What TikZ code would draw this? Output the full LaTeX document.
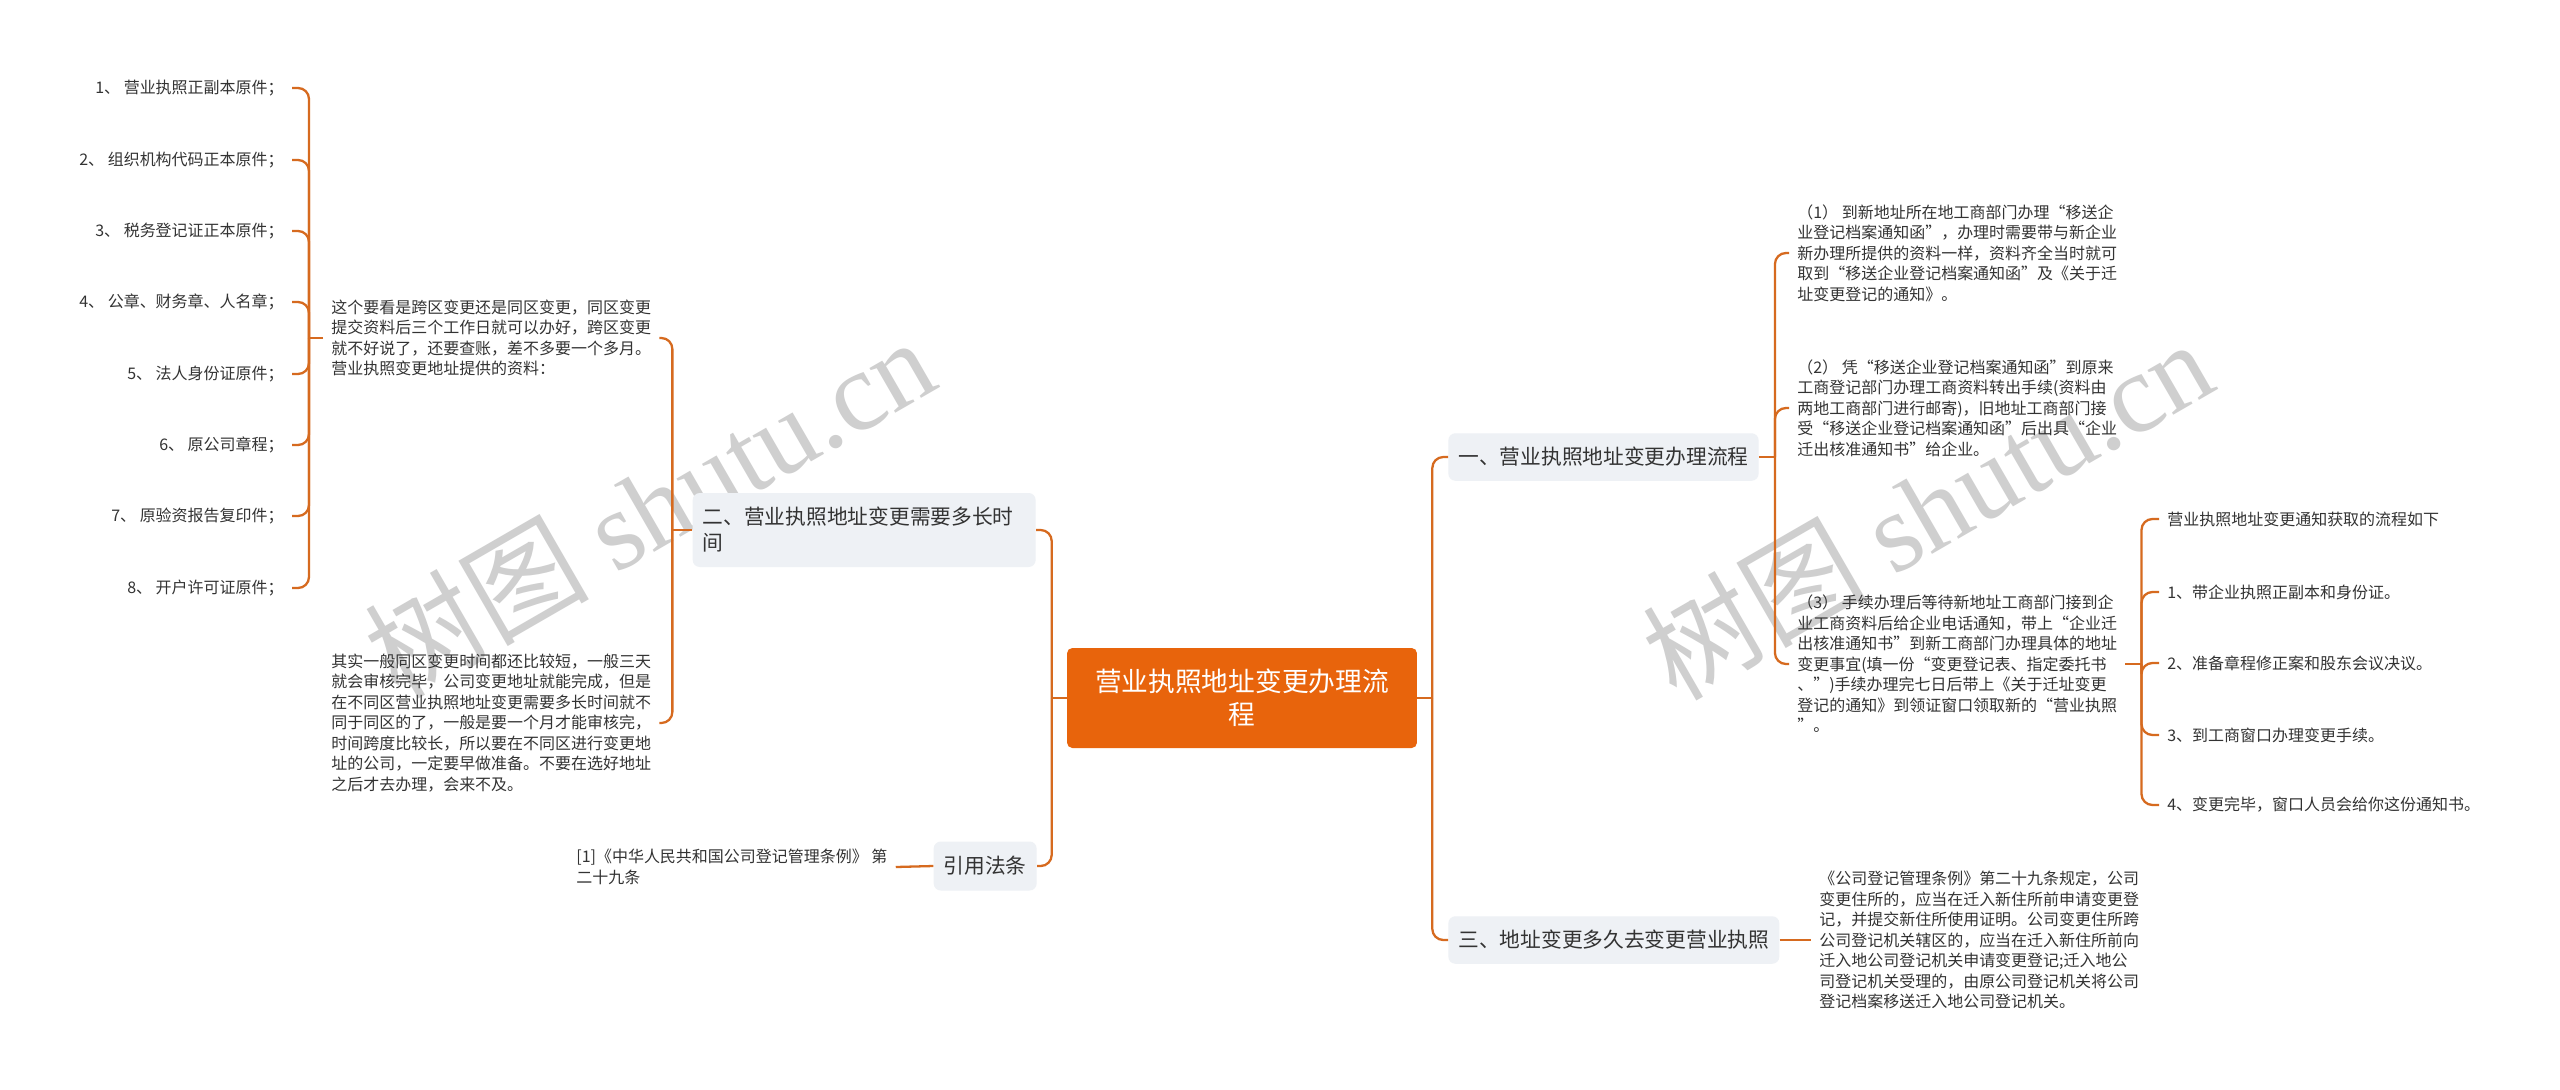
\documentclass[tikz,border=0pt]{standalone}
\usepackage{fontspec}
\setmainfont{Noto Sans CJK SC}
\newfontfamily\markfont{Liberation Serif}
\usepackage{xcolor}
\usetikzlibrary{positioning,calc}
\definecolor{RootFill}{HTML}{E8640C}
\definecolor{Branch}{HTML}{D66A1F}
\definecolor{TopicFill}{HTML}{EEF1F5}
\definecolor{Ink}{HTML}{333333}
\definecolor{Stamp}{HTML}{CFCFCF}
\newcommand\rootsize{\fontsize{15.2}{18.8}\selectfont}
\newcommand\topicsize{\fontsize{11.8}{14.8}\selectfont}
\newcommand\leafsize{\fontsize{9.1}{11.67}\selectfont}
\tikzset{
  rootbox/.style={fill=RootFill,text=white,rounded corners=3pt,minimum width=7cm,minimum height=2cm,align=center,font=\rootsize},
  topic/.style={fill=TopicFill,text=Ink,rounded corners=4pt,inner xsep=0.2cm,minimum height=0.95cm,align=left,font=\topicsize},
  leaf/.style={text=Ink,inner xsep=0.16cm,inner ysep=0.05cm,align=left,font=\leafsize},
  rleaf/.style={leaf,align=right},
  branch/.style={draw=Branch,line width=1.3pt,rounded corners=0.22cm},
  stamp/.style={text=Stamp,rotate=30,font=\fontsize{64}{66}\selectfont,inner sep=0pt}
}

\begin{document}
\begin{tikzpicture}[x=0.02cm,y=-0.02cm]
  \fill[white] (0,0) rectangle (2560,1089);
  \useasboundingbox (0,0) rectangle (2560,1089);

  \node[stamp] (stampLeft) at (649,506) {树图 {\markfont shutu.cn}};
  \node[stamp] (stampRight) at (1927,508) {树图 {\markfont shutu.cn}};

  \node[rootbox] (rootTopic) at (1242,698) {营业执照地址变更办理流\\程};

  \node[topic,anchor=west] (tOne) at (1448,457) {一、营业执照地址变更办理流程};
  \node[topic,anchor=west] (tThree) at (1448,940) {三、地址变更多久去变更营业执照};
  \node[topic,anchor=east,text width=6.46cm,minimum height=1.48cm] (tTwo) at (1036,530) {二、营业执照地址变更需要多长时\\间};
  \node[topic,anchor=east,minimum height=0.98cm] (tCite) at (1037,866) {引用法条};

  \node[leaf,anchor=west] (stepOne) at (1789,253) {（1） 到新地址所在地工商部门办理“移送企\\业登记档案通知函”，办理时需要带与新企业\\新办理所提供的资料一样，资料齐全当时就可\\取到“移送企业登记档案通知函”及《关于迁\\址变更登记的通知》。};
  \node[leaf,anchor=west] (stepTwo) at (1789,408) {（2） 凭“移送企业登记档案通知函”到原来\\工商登记部门办理工商资料转出手续(资料由\\两地工商部门进行邮寄)，旧地址工商部门接\\受“移送企业登记档案通知函”后出具“企业\\迁出核准通知书”给企业。};
  \node[leaf,anchor=west] (stepThree) at (1789,664) {（3） 手续办理后等待新地址工商部门接到企\\业工商资料后给企业电话通知，带上“企业迁\\出核准通知书”到新工商部门办理具体的地址\\变更事宜(填一份“变更登记表、指定委托书\\、”)手续办理完七日后带上《关于迁址变更\\登记的通知》到领证窗口领取新的“营业执照\\”。};

  \node[leaf,anchor=west] (getHead) at (2159,519) {营业执照地址变更通知获取的流程如下};
  \node[leaf,anchor=west] (getOne) at (2159,592) {1、带企业执照正副本和身份证。};
  \node[leaf,anchor=west] (getTwo) at (2159,663) {2、准备章程修正案和股东会议决议。};
  \node[leaf,anchor=west] (getThree) at (2159,735) {3、到工商窗口办理变更手续。};
  \node[leaf,anchor=west] (getFour) at (2159,805) {4、变更完毕，窗口人员会给你这份通知书。};

  \node[leaf,anchor=west] (lawText) at (1811,940) {《公司登记管理条例》第二十九条规定，公司\\变更住所的，应当在迁入新住所前申请变更登\\记，并提交新住所使用证明。公司变更住所跨\\公司登记机关辖区的，应当在迁入新住所前向\\迁入地公司登记机关申请变更登记;迁入地公\\司登记机关受理的，由原公司登记机关将公司\\登记档案移送迁入地公司登记机关。};

  \node[leaf,anchor=west] (timeSame) at (323,338) {这个要看是跨区变更还是同区变更，同区变更\\提交资料后三个工作日就可以办好，跨区变更\\就不好说了，还要查账，差不多要一个多月。\\营业执照变更地址提供的资料：};
  \node[leaf,anchor=west] (timeCross) at (323,723) {其实一般同区变更时间都还比较短，一般三天\\就会审核完毕，公司变更地址就能完成，但是\\在不同区营业执照地址变更需要多长时间就不\\同于同区的了，一般是要一个月才能审核完，\\时间跨度比较长，所以要在不同区进行变更地\\址的公司，一定要早做准备。不要在选好地址\\之后才去办理，会来不及。};
  \node[leaf,anchor=west] (citeText) at (568,867) {[1]《中华人民共和国公司登记管理条例》 第\\二十九条};

  \node[rleaf,anchor=east] (docOne) at (292,88) {1、 营业执照正副本原件；};
  \node[rleaf,anchor=east] (docTwo) at (292,160) {2、 组织机构代码正本原件；};
  \node[rleaf,anchor=east] (docThree) at (292,231) {3、 税务登记证正本原件；};
  \node[rleaf,anchor=east] (docFour) at (292,302) {4、 公章、财务章、人名章；};
  \node[rleaf,anchor=east] (docFive) at (292,374) {5、 法人身份证原件；};
  \node[rleaf,anchor=east] (docSix) at (292,445) {6、 原公司章程；};
  \node[rleaf,anchor=east] (docSeven) at (292,516) {7、 原验资报告复印件；};
  \node[rleaf,anchor=east] (docEight) at (292,588) {8、 开户许可证原件；};

  \coordinate (joinLeft) at ($(rootTopic.west)+(-15,0)$);
  \coordinate (joinRight) at ($(rootTopic.east)+(15,0)$);
  \coordinate (joinOne) at ($(tOne.east)+(16,0)$);
  \coordinate (joinStep) at ($(stepThree.east)+(16,0)$);
  \coordinate (joinTwo) at ($(tTwo.west)+(-20,0)$);
  \coordinate (joinDocs) at ($(timeSame.west)+(-14,0)$);

  \draw[branch] (rootTopic.west) -- (joinLeft);
  \draw[branch] (joinLeft) |- (tTwo.east);
  \draw[branch] (joinLeft) |- (tCite.east);
  \draw[branch] (rootTopic.east) -- (joinRight);
  \draw[branch] (joinRight) |- (tOne.west);
  \draw[branch] (joinRight) |- (tThree.west);

  \draw[branch] (tOne.east) -- (joinOne);
  \draw[branch] (joinOne) |- (stepOne.west);
  \draw[branch] (joinOne) |- (stepTwo.west);
  \draw[branch] (joinOne) |- (stepThree.west);
  \draw[branch] (stepThree.east) -- (joinStep);
  \draw[branch] (joinStep) |- (getHead.west);
  \draw[branch] (joinStep) |- (getOne.west);
  \draw[branch] (joinStep) |- (getTwo.west);
  \draw[branch] (joinStep) |- (getThree.west);
  \draw[branch] (joinStep) |- (getFour.west);
  \draw[branch] (tThree.east) -- (lawText.west);

  \draw[branch] (tTwo.west) -- (joinTwo);
  \draw[branch] (joinTwo) |- (timeSame.east);
  \draw[branch] (joinTwo) |- (timeCross.east);
  \draw[branch] (timeSame.west) -- (joinDocs);
  \draw[branch] (joinDocs) |- (docOne.east);
  \draw[branch] (joinDocs) |- (docTwo.east);
  \draw[branch] (joinDocs) |- (docThree.east);
  \draw[branch] (joinDocs) |- (docFour.east);
  \draw[branch] (joinDocs) |- (docFive.east);
  \draw[branch] (joinDocs) |- (docSix.east);
  \draw[branch] (joinDocs) |- (docSeven.east);
  \draw[branch] (joinDocs) |- (docEight.east);
  \draw[branch] (tCite.west) -- (citeText.east);
\end{tikzpicture}
\end{document}
